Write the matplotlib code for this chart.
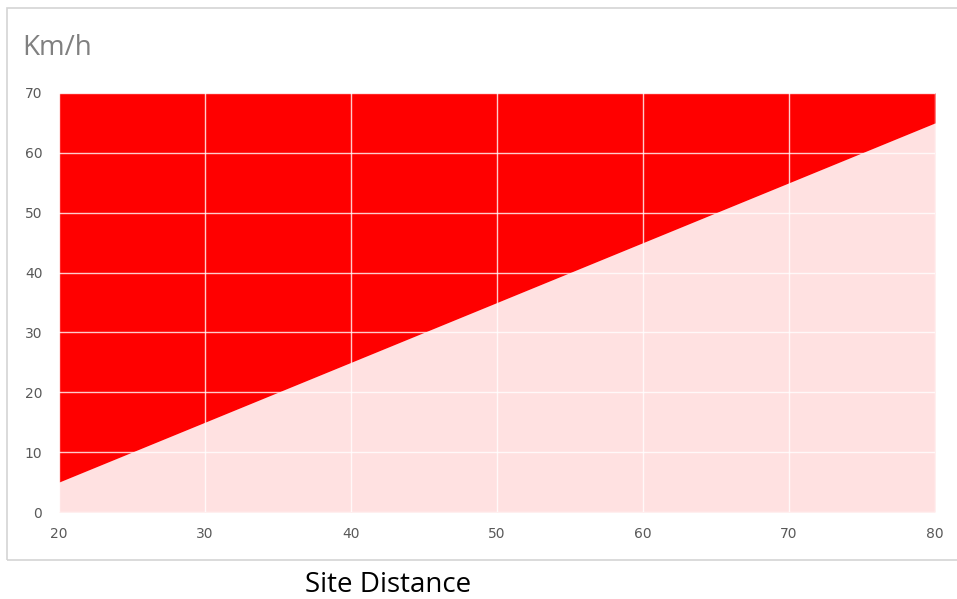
import matplotlib.pyplot as plt
from matplotlib.patches import Rectangle

# distance vs. limit speed
distance = [20, 30, 40, 50, 60, 70, 80]
speed = [5, 15, 25, 35, 45, 55, 65]
speed_max = 70

W, H = 957, 599
fig = plt.figure(figsize=(W / 100, H / 100), dpi=100)
fig.patch.set_facecolor('white')

# outer frame of the chart area
fig.patches.append(Rectangle((7 / W, 1 - 560 / H), (W + 30) / W, (560 - 8) / H,
                             transform=fig.transFigure, fill=False,
                             edgecolor='#d4d4d4', linewidth=1.2))

ax = fig.add_axes([59 / W, 1 - 512 / H, (935 - 59) / W, (512 - 93) / H])

ax.fill_between(distance, 0, speed, color='#ffe1e1', linewidth=0)
ax.fill_between(distance, speed, speed_max, color='#ff0000', linewidth=0)

ax.set_xlim(20, 80)
ax.set_ylim(0, 70)
ax.set_xticks(range(20, 81, 10))
ax.set_yticks(range(0, 71, 10))
ax.grid(True, color='white', linewidth=1.0, alpha=0.8)
ax.set_axisbelow(False)
for s in ax.spines.values():
    s.set_visible(False)
ax.tick_params(length=0, labelsize=10, labelcolor='#595959')
ax.tick_params(axis='y', pad=12)
ax.tick_params(axis='x', pad=11)

fig.text(22 / W, 1 - 48 / H, 'Km/h', fontsize=20, color='#808080',
         va='center', ha='left', family='Open Sans')
fig.text(388 / W, 1 - 585 / H, 'Site Distance', fontsize=20, color='black',
         va='center', ha='center', family='Open Sans')

fig.savefig('out.png', dpi=100)
